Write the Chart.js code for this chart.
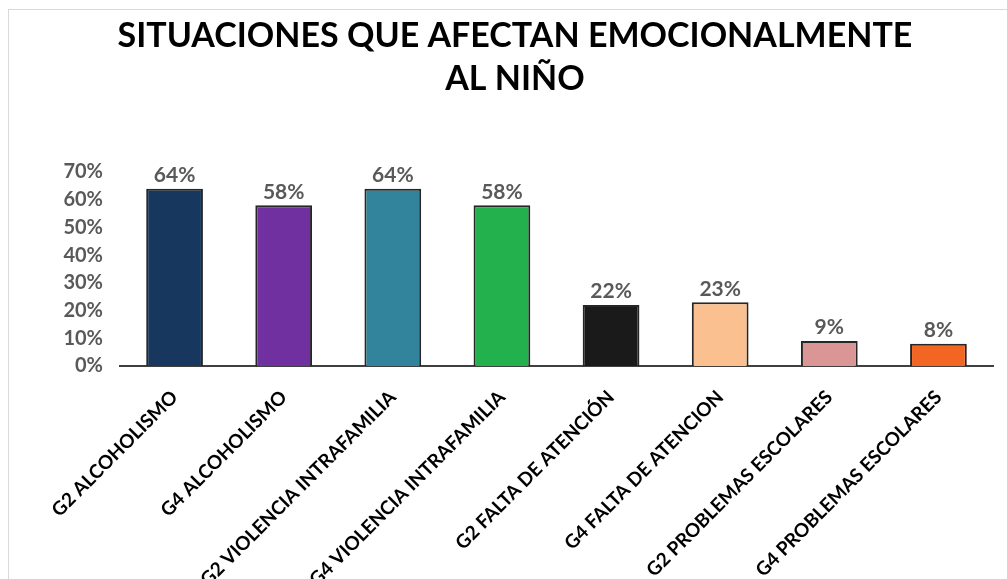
<!DOCTYPE html>
<html>
<head>
<meta charset="utf-8">
<script src="https://cdn.jsdelivr.net/npm/chart.js@4"></script>
<style>
  html, body { margin: 0; padding: 0; background: #fff; }
  #wrap { position: relative; width: 1007px; height: 579px; overflow: hidden; }
  #frame { position: absolute; left: 8px; top: 9px; width: 1100px; height: 700px; border: 1px solid #d9d9d9; }
  canvas { position: absolute; left: 0; top: 0; }
</style>
</head>
<body>
<div id="wrap">
  <div id="frame"></div>
  <canvas id="chart" width="1007" height="579"></canvas>
</div>
<script>
// -------- DATA --------
const titleLines = ["SITUACIONES QUE AFECTAN EMOCIONALMENTE", "AL NIÑO"];
const categories = [
    "G2 ALCOHOLISMO",
    "G4 ALCOHOLISMO",
    "G2 VIOLENCIA INTRAFAMILIA",
    "G4 VIOLENCIA INTRAFAMILIA",
    "G2 FALTA DE ATENCIÓN",
    "G4 FALTA DE ATENCION",
    "G2 PROBLEMAS ESCOLARES",
    "G4 PROBLEMAS ESCOLARES"
];
const values = [0.64, 0.58, 0.64, 0.58, 0.22, 0.23, 0.09, 0.08];
const barColors = ["#17375e", "#7030a0", "#31849b", "#22b14c", "#1a1a1a", "#fac090", "#d99694", "#f26522"];
const yMax = 0.7;
const yStep = 0.1;

const FONT = "Lato, 'Open Sans', sans-serif";

// -------- TITLE (centred like the original, not on the plot) --------
const titleBlock = {
    id: "titleBlock",
    afterDraw(chart) {
        const ctx = chart.ctx;
        ctx.save();
        ctx.font = "bold 34px " + FONT;
        ctx.fillStyle = "#000";
        ctx.textAlign = "center";
        ctx.textBaseline = "middle";
        titleLines.forEach((line, i) => ctx.fillText(line, 515, 36 + i * 43));
        ctx.restore();
    }
};

// -------- VALUE LABELS --------
const valueLabels = {
    id: "valueLabels",
    afterDatasetsDraw(chart) {
        const ctx = chart.ctx;
        const meta = chart.getDatasetMeta(0);
        ctx.save();
        ctx.font = "bold 21px " + FONT;
        ctx.fillStyle = "#595959";
        ctx.textAlign = "center";
        ctx.textBaseline = "bottom";
        meta.data.forEach((bar, i) => {
            ctx.fillText(Math.round(values[i] * 100) + "%", bar.x, bar.y - 3);
        });
        ctx.restore();
    }
};

// -------- CHART --------
new Chart(document.getElementById("chart").getContext("2d"), {
    type: "bar",
    data: {
        labels: categories,
        datasets: [{
            data: values,
            backgroundColor: barColors,
            borderColor: "#262626",
            borderWidth: 2,
            barPercentage: 0.52,
            categoryPercentage: 1
        }]
    },
    options: {
        responsive: false,
        animation: false,
        layout: { padding: { left: 0, right: 14, top: 172, bottom: 0 } },
        plugins: {
            legend: { display: false },
            tooltip: { enabled: false },
            title: { display: false }
        },
        scales: {
            x: {
                grid: { display: false },
                border: { display: true, color: "#404040", width: 2 },
                ticks: {
                    color: "#000",
                    font: { family: FONT, size: 19, weight: "bold" },
                    minRotation: 45,
                    maxRotation: 45,
                    autoSkip: false,
                    padding: 12
                },
                afterFit: s => { s.height = 213; }
            },
            y: {
                min: 0,
                max: yMax,
                grid: { display: false },
                border: { display: false },
                ticks: {
                    stepSize: yStep,
                    color: "#595959",
                    padding: 9,
                    font: { family: FONT, size: 20, weight: "bold" },
                    callback: v => Math.round(v * 100) + "%"
                },
                afterFit: s => { s.width = 120; }
            }
        }
    },
    plugins: [titleBlock, valueLabels]
});
</script>
</body>
</html>
